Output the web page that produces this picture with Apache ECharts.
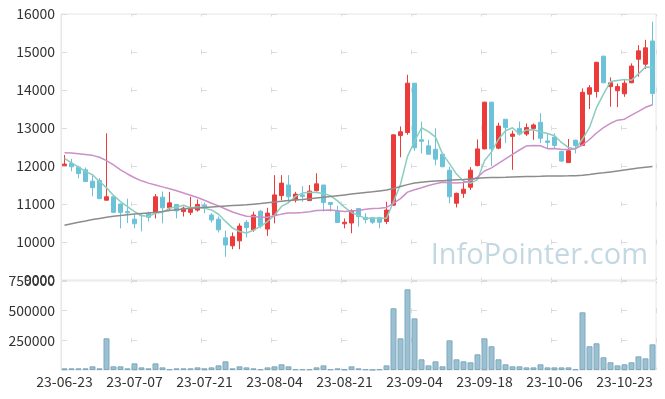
<!DOCTYPE html>
<html>
<head>
<meta charset="utf-8">
<script src="https://cdn.jsdelivr.net/npm/echarts@6/dist/echarts.min.js"></script>
<style>
  html, body { margin: 0; padding: 0; background: #fff; }
  #chart { width: 665px; height: 399px; }
</style>
</head>
<body>
<div id="chart"></div>
<script>
// 거래일
const dates = [
  '23-06-23', '23-06-26', '23-06-27', '23-06-28', '23-06-29', '23-06-30', '23-07-03', '23-07-04', '23-07-05', '23-07-06',
  '23-07-07', '23-07-10', '23-07-11', '23-07-12', '23-07-13', '23-07-14', '23-07-17', '23-07-18', '23-07-19', '23-07-20',
  '23-07-21', '23-07-24', '23-07-25', '23-07-26', '23-07-27', '23-07-28', '23-07-31', '23-08-01', '23-08-02', '23-08-03',
  '23-08-04', '23-08-07', '23-08-08', '23-08-09', '23-08-10', '23-08-11', '23-08-14', '23-08-16', '23-08-17', '23-08-18',
  '23-08-21', '23-08-22', '23-08-23', '23-08-24', '23-08-25', '23-08-28', '23-08-29', '23-08-30', '23-08-31', '23-09-01',
  '23-09-04', '23-09-05', '23-09-06', '23-09-07', '23-09-08', '23-09-11', '23-09-12', '23-09-13', '23-09-14', '23-09-15',
  '23-09-18', '23-09-19', '23-09-20', '23-09-21', '23-09-22', '23-09-25', '23-09-26', '23-09-27', '23-10-04', '23-10-05',
  '23-10-06', '23-10-10', '23-10-11', '23-10-12', '23-10-13', '23-10-16', '23-10-17', '23-10-18', '23-10-19', '23-10-20',
  '23-10-23', '23-10-24', '23-10-25', '23-10-26', '23-10-27'
];

const opens = [
  12010, 12070, 11970, 11900, 11600, 11620, 11100, 11190, 11000, 10800,
  10600, 10700, 10750, 10770, 11180, 10900, 10990, 10800, 10780, 10840,
  10970, 10710, 10600, 10110, 9900, 10030, 10520, 10320, 10810, 10340,
  10710, 11220, 11500, 11110, 11240, 11090, 11350, 11500, 11040, 10820,
  10480, 10500, 10880, 10650, 10640, 10640, 10540, 10970, 12800, 12880,
  14180, 12690, 12530, 12440, 12310, 11890, 11020, 11280, 11440, 12010,
  12450, 13680, 12470, 13230, 12780, 12990, 12840, 12990, 13150, 12660,
  12760, 12380, 12090, 12680, 12540, 13890, 13960, 14890, 14090, 13980,
  13900, 14190, 14810, 14680, 15290
];
const closes = [
  12050, 11980, 11800, 11590, 11430, 11140, 11190, 10780, 10780, 10770,
  10480, 10690, 10650, 11190, 10900, 11030, 10820, 10890, 10860, 10990,
  10900, 10580, 10320, 9920, 10140, 10420, 10380, 10710, 10420, 10760,
  11240, 11550, 11190, 11260, 11200, 11340, 11530, 11040, 10990, 10510,
  10520, 10820, 10670, 10590, 10520, 10520, 10840, 12820, 12900, 14180,
  12480, 12650, 12310, 12180, 11980, 11190, 11280, 11390, 11890, 12450,
  13680, 12450, 13050, 13010, 12840, 12840, 13010, 13080, 12730, 12620,
  12540, 12130, 12400, 12540, 13940, 14060, 14730, 14190, 14190, 14090,
  14180, 14630, 15030, 15110, 13910
];
const lows = [
  12000, 11860, 11680, 11590, 11200, 11130, 11090, 10770, 10360, 10500,
  10360, 10280, 10540, 10620, 10490, 10840, 10620, 10670, 10710, 10800,
  10760, 10510, 10250, 9610, 9810, 9810, 10120, 10270, 10360, 10160,
  10490, 11100, 11030, 11040, 11060, 11080, 11330, 10800, 10800, 10500,
  10360, 10230, 10400, 10490, 10470, 10360, 10470, 10960, 12230, 12820,
  12400, 12330, 12300, 12020, 11970, 11020, 10910, 11160, 11370, 11990,
  12440, 12000, 12440, 12610, 11900, 12800, 12790, 12690, 12600, 12470,
  12470, 12100, 12080, 12330, 12530, 13500, 13800, 14180, 13560, 13550,
  13820, 14180, 14350, 14550, 13600
];
const highs = [
  12290, 12190, 12010, 11960, 11750, 11680, 12860, 11190, 11010, 11140,
  10730, 10760, 10800, 11260, 11330, 11320, 11000, 10930, 11190, 11120,
  11040, 10760, 10670, 10300, 10250, 10490, 10580, 10800, 10840, 10900,
  11760, 11760, 11760, 11320, 11470, 11500, 11810, 11500, 11040, 10950,
  10620, 10860, 10890, 10760, 10650, 10660, 11060, 12830, 13040, 14400,
  14180, 13170, 12690, 12990, 12330, 11980, 11300, 11600, 11970, 12700,
  13690, 13690, 13140, 13230, 12930, 13170, 13120, 13120, 13390, 12860,
  12860, 12400, 12710, 12690, 14040, 14130, 14740, 14900, 14330, 14170,
  14260, 14700, 15180, 15320, 15800
];

const volumes = [
  14000, 14000, 14000, 14000, 31000, 14000, 267000, 31000, 31000, 14000,
  56000, 22000, 14000, 56000, 22000, 6000, 14000, 14000, 14000, 22000,
  14000, 22000, 39000, 73000, 14000, 31000, 22000, 14000, 6000, 22000,
  31000, 48000, 31000, 6000, 6000, 6000, 22000, 39000, 6000, 14000,
  6000, 31000, 14000, 6000, 2000, 6000, 39000, 520000, 267000, 680000,
  435000, 90000, 39000, 73000, 31000, 250000, 90000, 73000, 65000, 132000,
  267000, 200000, 90000, 48000, 31000, 31000, 22000, 22000, 48000, 22000,
  22000, 22000, 22000, 6000, 486000, 200000, 225000, 107000, 65000, 39000,
  48000, 65000, 115000, 98000, 216000
];

// 이동평균선
const ma5 = [
  12200, 12080, 11970, 11860, 11770, 11588, 11430, 11226, 11064, 10932,
  10800, 10700, 10674, 10756, 10782, 10892, 10918, 10966, 10900, 10918,
  10892, 10844, 10730, 10542, 10372, 10276, 10236, 10314, 10414, 10538,
  10702, 10936, 11032, 11200, 11288, 11308, 11304, 11274, 11220, 11082,
  10918, 10776, 10702, 10622, 10624, 10624, 10628, 11058, 11520, 12252,
  12644, 13006, 12904, 12760, 12320, 12062, 11788, 11604, 11546, 11640,
  12138, 12372, 12704, 12928, 13006, 12838, 12950, 12956, 12900, 12856,
  12796, 12620, 12484, 12446, 12710, 13014, 13534, 13892, 14222, 14252,
  14276, 14256, 14424, 14608, 14600
];
const ma20 = [
  12350, 12340, 12320, 12300, 12280, 12230, 12140, 12030, 11900, 11790,
  11690, 11610, 11550, 11500, 11450, 11400, 11350, 11290, 11230, 11170,
  11100, 11020, 10950, 10870, 10790, 10730, 10680, 10671, 10653, 10653,
  10691, 10734, 10761, 10764, 10779, 10795, 10830, 10838, 10844, 10820,
  10801, 10813, 10831, 10864, 10883, 10888, 10911, 11017, 11141, 11312,
  11374, 11429, 11485, 11531, 11570, 11562, 11550, 11567, 11612, 11709,
  11867, 11949, 12068, 12189, 12305, 12421, 12529, 12542, 12534, 12456,
  12459, 12433, 12437, 12455, 12553, 12697, 12869, 13009, 13124, 13206,
  13231, 13340, 13439, 13544, 13610
];
const ma60 = [
  10440, 10480, 10520, 10550, 10590, 10620, 10650, 10680, 10700, 10720,
  10735, 10750, 10765, 10780, 10800, 10830, 10850, 10870, 10885, 10895,
  10905, 10920, 10935, 10950, 10960, 10970, 10980, 10995, 11010, 11030,
  11050, 11070, 11090, 11105, 11120, 11140, 11160, 11180, 11200, 11220,
  11240, 11260, 11280, 11300, 11320, 11345, 11370, 11410, 11460, 11510,
  11550, 11575, 11590, 11605, 11615, 11625, 11635, 11645, 11660, 11675,
  11690, 11695, 11700, 11705, 11712, 11718, 11722, 11726, 11730, 11735,
  11738, 11740, 11742, 11745, 11755, 11775, 11800, 11820, 11845, 11870,
  11895, 11920, 11945, 11965, 11985
];

const priceTicks = { min: 9000, max: 16000, interval: 1000 };
const volumeTicks = { min: 0, max: 750000, interval: 250000 };

const candleData = opens.map((o, i) => [o, closes[i], lows[i], highs[i]]);

const labelFont = 'Noto Sans CJK KR';
const crossColor = '#dcdcdc';
const plainNumber = (v) => String(v);

const myChart = echarts.init(document.getElementById('chart'));
const chartOption = {
  animation: false,
  backgroundColor: '#fff',
  grid: [
    { left: 61, right: 9, top: 14, height: 266, show: true, borderColor: '#e6e6e6', borderWidth: 1 },
    { left: 61, right: 9, top: 281, height: 89, show: true, borderColor: '#e6e6e6', borderWidth: 1 }
  ],
  xAxis: [
    {
      type: 'category',
      gridIndex: 0,
      data: dates,
      boundaryGap: true,
      axisLine: { show: false },
      axisTick: { show: false },
      axisLabel: { show: false },
      splitLine: {
        show: true,
        interval: 9,
        lineStyle: { color: crossColor, width: 1, type: [5, 33], dashOffset: 2.5 }
      }
    },
    {
      type: 'category',
      gridIndex: 1,
      data: dates,
      boundaryGap: true,
      axisLine: { show: false },
      axisTick: { show: false },
      axisLabel: {
        interval: 9,
        margin: 5,
        color: '#333',
        fontSize: 14,
        fontFamily: labelFont
      },
      splitLine: {
        show: true,
        interval: 9,
        lineStyle: { color: crossColor, width: 1, type: [5, 24.67], dashOffset: 2.5 }
      }
    }
  ],
  yAxis: [
    {
      type: 'value',
      gridIndex: 0,
      min: priceTicks.min,
      max: priceTicks.max,
      interval: priceTicks.interval,
      axisLine: { show: true, lineStyle: { color: '#e6e6e6' } },
      axisTick: { show: false },
      axisLabel: { margin: 6, color: '#333', fontSize: 14, fontFamily: labelFont, formatter: plainNumber },
      splitLine: {
        show: true,
        lineStyle: { color: crossColor, width: 1, type: [5, 65], dashOffset: 69 }
      }
    },
    {
      type: 'value',
      gridIndex: 1,
      min: volumeTicks.min,
      max: volumeTicks.max,
      interval: volumeTicks.interval,
      axisLine: { show: true, lineStyle: { color: '#e6e6e6' } },
      axisTick: { show: false },
      axisLabel: {
        margin: 6,
        color: '#333',
        fontSize: 14,
        fontFamily: labelFont,
        showMinLabel: false,
        formatter: plainNumber
      },
      splitLine: {
        show: true,
        lineStyle: { color: crossColor, width: 1, type: [5, 65], dashOffset: 69 }
      }
    }
  ],
  graphic: [
    {
      type: 'text',
      right: 17,
      top: 241,
      z: -1,
      style: {
        text: 'InfoPointer.com',
        font: '29px "Open Sans"',
        fill: '#c3d8e3'
      }
    }
  ],
  series: [
    {
      name: '일봉',
      type: 'candlestick',
      xAxisIndex: 0,
      yAxisIndex: 0,
      data: candleData,
      barWidth: 5,
      itemStyle: {
        color: '#ec3b3b',
        color0: '#6cc3d9',
        borderColor: '#ec3b3b',
        borderColor0: '#6cc3d9',
        borderWidth: 1
      }
    },
    {
      name: 'MA5',
      type: 'line',
      xAxisIndex: 0,
      yAxisIndex: 0,
      data: ma5,
      showSymbol: false,
      lineStyle: { color: '#8bcdbf', width: 1.5 }
    },
    {
      name: 'MA20',
      type: 'line',
      xAxisIndex: 0,
      yAxisIndex: 0,
      data: ma20,
      showSymbol: false,
      lineStyle: { color: '#cb90c8', width: 1.5 }
    },
    {
      name: 'MA60',
      type: 'line',
      xAxisIndex: 0,
      yAxisIndex: 0,
      data: ma60,
      showSymbol: false,
      lineStyle: { color: '#8c8c8c', width: 1.5 }
    },
    {
      name: '거래량',
      type: 'bar',
      xAxisIndex: 1,
      yAxisIndex: 1,
      data: volumes,
      barWidth: 6,
      itemStyle: { color: '#9bc0d2', borderColor: '#7ea9be', borderWidth: 1 }
    }
  ]
};
myChart.setOption(chartOption);
</script>
</body>
</html>
